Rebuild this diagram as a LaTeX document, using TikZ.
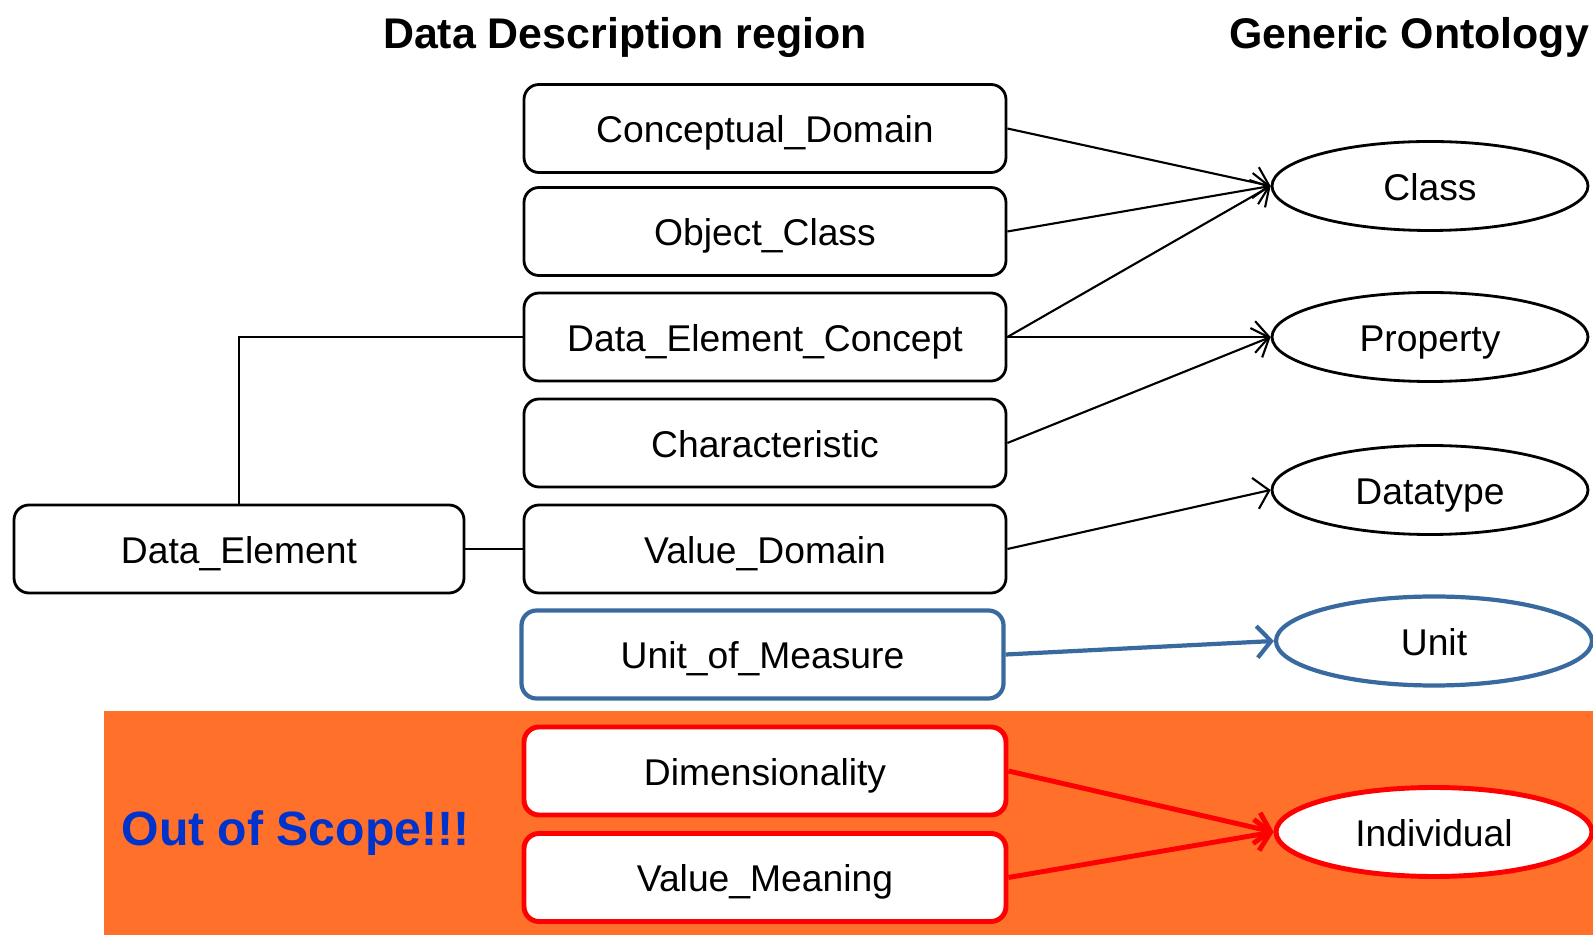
\documentclass[tikz,border=0pt]{standalone}
\usepackage{fontspec}
\setmainfont{Liberation Sans}
\usetikzlibrary{shapes.geometric,arrows.meta}
\definecolor{scopeorange}{RGB}{255,113,42}
\definecolor{unitblue}{RGB}{56,106,160}
\definecolor{scopeblue}{RGB}{0,51,204}

\begin{document}
\begin{tikzpicture}[
	box/.style={draw, thick, rounded corners=0.15cm, fill=white, minimum width=4.82cm, minimum height=0.88cm, text height=0.9em, text depth=0.08em, font=\fontsize{10.6}{13}\selectfont},
	onto/.style={draw, thick, ellipse, fill=white, minimum width=3.16cm, minimum height=0.89cm, inner sep=0pt, text height=0.9em, text depth=0.08em, font=\fontsize{10.6}{13}\selectfont},
	title/.style={font=\fontsize{12.2}{14}\selectfont\bfseries},
	link/.style={semithick, -{Straight Barb[length=4pt,width=9pt]}}]
	\useasboundingbox (0,0) rectangle (15.93,9.35);
	\fill[scopeorange] (1.04,0) rectangle (15.93,2.24);
	\node[title] (ddr) at (6.25,8.975) {Data Description region};
	\node[title] (gen) at (14.09,8.975) {Generic Ontology};
	\node[box] (cd) at (7.65,8.065) {Conceptual\_Domain};
	\node[box] (oc) at (7.65,7.035) {Object\_Class};
	\node[box] (dec) at (7.65,5.98) {Data\_Element\_Concept};
	\node[box] (ch) at (7.65,4.92) {Characteristic};
	\node[box] (vd) at (7.65,3.86) {Value\_Domain};
	\node[box, draw=unitblue, line width=1.2pt] (uom) at (7.625,2.805) {Unit\_of\_Measure};
	\node[box, draw=red, line width=1.4pt] (dim) at (7.65,1.64) {Dimensionality};
	\node[box, draw=red, line width=1.4pt] (vm) at (7.65,0.575) {Value\_Meaning};
	\node[box, minimum width=4.50cm] (de) at (2.39,3.86) {Data\_Element};
	\node[onto] (cls) at (14.30,7.49) {Class};
	\node[onto] (prop) at (14.30,5.98) {Property};
	\node[onto] (dt) at (14.30,4.45) {Datatype};
	\node[onto, draw=unitblue, line width=1.2pt] (unit) at (14.34,2.94) {Unit};
	\node[onto, draw=red, line width=1.4pt] (ind) at (14.34,1.03) {Individual};
	\node[font=\fontsize{13.7}{16}\selectfont\bfseries, text=scopeblue] (oos) at (2.955,1.02) {Out of Scope!!!};
	% links to the ontology
	\draw[link] (cd.east) -- (cls.west);
	\draw[link] (oc.east) -- (cls.west);
	\draw[link] (dec.east) -- (cls.west);
	\draw[link] (dec.east) -- (prop.west);
	\draw[link] (ch.east) -- (prop.west);
	\draw[link] (vd.east) -- (dt.west);
	\draw[link, unitblue, line width=1.2pt] (uom.east) -- (unit.west);
	\draw[link, red, line width=1.4pt] (dim.east) -- (ind.west);
	\draw[link, red, line width=1.4pt] (vm.east) -- (ind.west);
	% data element parts
	\draw[semithick] (de.east) -- (vd.west);
	\draw[semithick] (de.north) |- (dec.west);
\end{tikzpicture}
\end{document}
